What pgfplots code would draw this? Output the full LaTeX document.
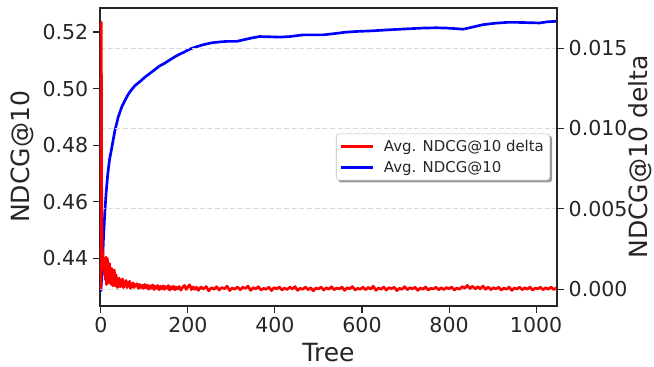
\documentclass[border=0pt]{standalone}
\usepackage{fontspec}
\setmainfont{DejaVu Sans}
\usepackage{pgfplots}
\pgfplotsset{compat=1.18}
\usetikzlibrary{backgrounds}

\pgfplotstableread{
t v
0 0.4282
2 0.4340
3 0.4380
5 0.4430
6 0.4470
9 0.4560
12 0.4630
16 0.4700
20 0.4750
25 0.4790
32 0.4850
40 0.4900
48 0.4935
56 0.4960
63 0.4980
70 0.4995
78 0.5010
90 0.5025
101 0.5040
112 0.5053
124 0.5067
135 0.5080
147 0.5090
160 0.5103
175 0.5117
190 0.5128
205 0.5140
220 0.5148
235 0.5155
255 0.5162
273 0.5165
290 0.5167
312 0.5167
335 0.5175
350 0.5180
365 0.5184
390 0.5183
411 0.5182
434 0.5184
465 0.5190
490 0.5190
511 0.5190
540 0.5195
560 0.5199
587 0.5202
620 0.5204
664 0.5208
700 0.5211
740 0.5214
770 0.5215
795 0.5214
815 0.5212
832 0.5210
850 0.5216
878 0.5226
905 0.5231
932 0.5234
960 0.5234
985 0.5233
1008 0.5232
1025 0.5236
1047 0.5238
}\ndcg

\pgfplotstableread{
t d
0 0
1 0.0166
2 0.0042
3 0.0026
4 0.0018
5 0.0023
6 0.0012
7 0.0019
8 0.0009
9 0.0016
10 0.0006
11 0.0014
12 0.0020
13 0.0003
14 0.0011
15 0.0019
16 0.0007
17 0.0015
18 0.0004
19 0.0012
20 0.0016
21 0.0005
22 0.0010
23 0.0003
24 0.0009
25 0.0013
26 0.0004
27 0.0008
28 0.0002
29 0.0010
30 0.0006
31 0.0012
32 0.0003
33 0.0007
34 0.0002
35 0.0009
36 0.0004
37 0.0007
38 0.0001
39 0.0006
40 0.0003
42 0.0007
44 0.00015
46 0.00055
48 0.0002
50 0.00065
52 0.0001
54 0.00045
56 0.00025
58 0.00055
60 0.0001
62 0.0004
64 0.0002
66 0.0005
68 0.00005
70 0.00035
72 0.00015
74 0.0004
76 0.0001
78 0.0003
80 0.0002
83 0.00035
86 0.00005
89 0.0003
92 0.0001
95 0.00025
98 0.00005
101 30e-5
104 8e-5
107 26e-5
110 0
113 22e-5
116 6e-5
119 27e-5
122 -2e-5
125 20e-5
128 5e-5
131 24e-5
134 -3e-5
137 18e-5
140 3e-5
143 22e-5
146 -1e-5
149 17e-5
152 5e-5
155 23e-5
158 -5e-5
161 16e-5
164 2e-5
167 19e-5
170 -3e-5
173 14e-5
176 1e-5
180 17e-5
184 -6e-5
188 13e-5
192 24e-5
196 -1e-5
200 16e-5
204 28e-5
208 -3e-5
212 15e-5
216 0
220 13e-5
224 -7e-5
230 14e-5
236 2e-5
242 17e-5
248 -10e-5
254 10e-5
260 0
266 16e-5
272 -5e-5
278 11e-5
284 3e-5
290 19e-5
296 -8e-5
302 8e-5
308 0
314 14e-5
320 -3e-5
326 13e-5
332 5e-5
338 20e-5
344 -7e-5
350 10e-5
356 2e-5
362 16e-5
368 -5e-5
374 6e-5
380 0
386 13e-5
392 -8e-5
398 10e-5
404 3e-5
410 14e-5
416 -5e-5
422 8e-5
428 -2e-5
434 13e-5
440 2e-5
446 17e-5
452 -7e-5
458 6e-5
464 0
470 14e-5
476 -3e-5
482 10e-5
488 -10e-5
494 8e-5
500 2e-5
506 13e-5
512 -5e-5
518 10e-5
524 0
530 16e-5
536 -3e-5
542 8e-5
548 2e-5
554 14e-5
560 -7e-5
566 10e-5
572 3e-5
578 17e-5
584 -5e-5
590 6e-5
596 0
602 13e-5
608 -3e-5
614 11e-5
620 2e-5
626 19e-5
632 -7e-5
638 8e-5
644 0
650 14e-5
656 -5e-5
662 10e-5
668 3e-5
674 13e-5
680 -8e-5
686 6e-5
692 0
698 16e-5
704 -3e-5
710 10e-5
716 2e-5
722 13e-5
728 -7e-5
734 8e-5
740 0
746 14e-5
752 -5e-5
758 6e-5
764 2e-5
770 13e-5
776 -3e-5
782 10e-5
788 -2e-5
794 11e-5
800 3e-5
806 14e-5
812 -5e-5
818 8e-5
824 0
830 17e-5
836 6e-5
842 24e-5
848 5e-5
854 19e-5
860 2e-5
866 16e-5
872 3e-5
878 20e-5
884 0
890 14e-5
896 -3e-5
902 10e-5
908 2e-5
914 13e-5
920 -5e-5
926 8e-5
932 0
938 14e-5
944 -7e-5
950 8e-5
956 2e-5
962 13e-5
968 -3e-5
974 10e-5
980 0
986 14e-5
992 -5e-5
998 8e-5
1004 2e-5
1010 13e-5
1016 -3e-5
1022 10e-5
1028 0
1034 14e-5
1040 -2e-5
1046 8e-5
}\delta

\begin{document}
\begin{tikzpicture}
\pgfplotsset{
  common/.style={
    scale only axis, width=342.75pt, height=223.5pt,
    xmin=-2, xmax=1048,
    tick align=outside, major tick length=5.25pt,
    axis line style={line width=0.8pt, black!85},
    every tick/.style={line width=0.8pt, black!85},
    tick label style={font=\fontsize{15.4}{18}\selectfont, text=black!85},
    label style={font=\fontsize{18.8}{22}\selectfont, text=black!85},
    /pgf/number format/assume math mode=true,
    /pgf/number format/1000 sep={},
  }
}
\begin{axis}[common, name=ax,
  ymin=0.4231, ymax=0.5285,
  ytick={0.44,0.46,0.48,0.50,0.52},
  xtick={0,200,400,600,800,1000},
  yticklabel style={/pgf/number format/.cd, fixed, precision=2, fixed zerofill},
  xtick pos=left, ytick pos=left,
  xlabel={Tree}, ylabel={NDCG@10},
  xlabel style={at={(axis description cs:0.5,-0.156)}, anchor=center},
  ylabel style={at={(axis description cs:-0.17,0.5)}, anchor=center},
]
\addplot[blue, line width=2pt, line join=round] table[x=t, y=v] {\ndcg};
\end{axis}
\begin{axis}[common,
  axis x line=none, axis y line*=right,
  ymin=-0.00104, ymax=0.01749,
  ytick={0,0.005,0.010,0.015},
  scaled y ticks=false,
  yticklabel style={/pgf/number format/.cd, fixed, precision=3, fixed zerofill},
  ymajorgrids, grid style={dash pattern=on 3.75pt off 2pt, black!15, line width=0.75pt},
  ylabel={NDCG@10 delta},
  ylabel style={at={(axis description cs:1.181,0.5)}, anchor=center},
  legend cell align=left,
  legend image code/.code={\draw[#1, line width=1.8pt, line cap=butt] (0pt,0pt) -- (24pt,0pt);},
  legend style={name=leg, at={(axis description cs:0.985,0.5)}, anchor=east,
    draw=black!25, fill=white, rounded corners=2.5pt,
    font=\fontsize{11.2}{13}\selectfont, text=black!85,
    inner xsep=3pt, inner ysep=3pt, row sep=3pt, column sep=5.5pt,
    nodes={inner sep=1.5pt}},
]
\addplot[red, line width=2pt, line join=round, forget plot] table[x=t, y=d] {\delta};
\addlegendimage{red}
\addlegendentry{Avg. NDCG@10 delta}
\addlegendimage{blue}
\addlegendentry{Avg. NDCG@10}
\end{axis}
\begin{scope}[on background layer]
\fill[black!40, rounded corners=2.5pt] ([shift={(1.5pt,-1.5pt)}]leg.south west) rectangle ([shift={(1.5pt,-1.5pt)}]leg.north east);
\end{scope}
\pgfresetboundingbox
\path ([shift={(-75pt,-45.75pt)}]ax.south west) rectangle ([shift={(72.75pt,6pt)}]ax.north east);
\end{tikzpicture}
\end{document}
